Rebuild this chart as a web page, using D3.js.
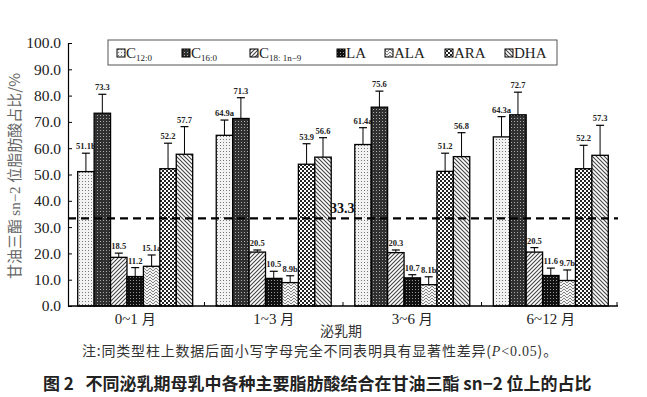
<!DOCTYPE html>
<html><head><meta charset="utf-8">
<script src="https://cdn.jsdelivr.net/npm/d3@7"></script>
<style>body{margin:0;background:#fff;}svg{display:block;}</style>
</head><body>
<script>
const groups = ["0~1 月","1~3 月","3~6 月","6~12 月"];
const seriesNames = ["C12:0","C16:0","C18:1n-9","LA","ALA","ARA","DHA"];
const c12 = [51.1,64.9,61.4,64.3];
const c16 = [73.3,71.3,75.6,72.7];
const c18 = [18.5,20.5,20.3,20.5];
const la = [11.2,10.5,10.7,11.6];
const ala = [15.1,8.9,8.1,9.7];
const ara = [52.2,53.9,51.2,52.2];
const dha = [57.7,56.6,56.8,57.3];
const c12Err = [7.0,5.8,6.4,7.7];
const c16Err = [7.2,7.9,6.1,8.6];
const c18Err = [1.6,0.8,1.0,1.7];
const laErr = [3.4,2.7,1.2,2.8];
const alaErr = [4.3,2.6,3.0,4.0];
const araErr = [9.7,7.8,6.9,8.9];
const dhaErr = [10.5,7.4,9.1,11.4];
const c12Sig = ["b","a","a","a"];
const alaSig = ["a","b","b","b"];
const yTicks = [0,10,20,30,40,50,60,70,80,90,100];
const refValue = 33.3;

const values = [c12,c16,c18,la,ala,ara,dha];
const errs = [c12Err,c16Err,c18Err,laErr,alaErr,araErr,dhaErr];
const sigs = [c12Sig,null,null,null,alaSig,null,null];

const W=647,H=397;
const svg=d3.select("body").append("svg").attr("width",W).attr("height",H);
const defs=svg.append("defs");

function pat(id,size,bg,draw){
  const p=defs.append("pattern").attr("id",id).attr("patternUnits","userSpaceOnUse").attr("width",size).attr("height",size);
  p.append("rect").attr("width",size).attr("height",size).attr("fill",bg);
  draw(p);
}
pat("p0",3,"#f2f2f2",p=>{p.append("rect").attr("x",1).attr("y",1).attr("width",1).attr("height",1).attr("fill","#777");});
pat("p1",3,"#303030",p=>{p.append("rect").attr("x",1).attr("y",1).attr("width",1).attr("height",1).attr("fill","#aaa");});
pat("p2",4,"#fff",p=>{p.append("path").attr("d","M-1,1 L1,-1 M0,4 L4,0 M3,5 L5,3").attr("stroke","#444").attr("stroke-width",1.1);});
pat("p3",3,"#111",p=>{p.append("rect").attr("x",1).attr("y",1).attr("width",1).attr("height",1).attr("fill","#999");});
pat("p4",6,"#f4f4f4",p=>{p.append("path").attr("d","M0,1 L3,4 L6,1 M0,4 L3,7 L6,4 M0,-2 L3,1 L6,-2").attr("stroke","#777").attr("stroke-width",0.9).attr("fill","none");});
pat("p5",4,"#fff",p=>{p.append("rect").attr("width",2).attr("height",2).attr("fill","#222");p.append("rect").attr("x",2).attr("y",2).attr("width",2).attr("height",2).attr("fill","#222");});
pat("p6",4,"#fff",p=>{p.append("path").attr("d","M-1,3 L1,5 M0,0 L4,4 M3,-1 L5,1").attr("stroke","#444").attr("stroke-width",1.1);});

const x0=d3.scaleBand().domain(groups).range([68,618]).paddingInner(0.17).paddingOuter(0.07);
const x1=d3.scaleBand().domain(seriesNames).range([0,x0.bandwidth()]);
const y=d3.scaleLinear().domain([0,100]).range([306,43]);

const serif="'Liberation Serif','Times New Roman',serif";
const cjk="'Noto Sans CJK SC',sans-serif";

seriesNames.forEach((s,si)=>{
  const g=svg.append("g");
  groups.forEach((grp,gi)=>{
    const v=values[si][gi], e=errs[si][gi];
    const bx=x0(grp)+x1(s), bw=x1.bandwidth(), cx=bx+bw/2;
    g.append("line").attr("x1",cx).attr("x2",cx).attr("y1",y(v)).attr("y2",y(v+e)).attr("stroke","#000").attr("stroke-width",1);
    g.append("line").attr("x1",cx-4).attr("x2",cx+4).attr("y1",y(v+e)).attr("y2",y(v+e)).attr("stroke","#000").attr("stroke-width",1.2);
    g.append("rect").attr("x",bx).attr("y",y(v)).attr("width",bw).attr("height",y(0)-y(v))
      .attr("fill",`url(#p${si})`).attr("stroke","#000").attr("stroke-width",1.3);
    const lab=v.toFixed(1)+(sigs[si]?sigs[si][gi]:"");
    g.append("text").attr("x",cx).attr("y",y(v+e)-4).attr("text-anchor","middle")
      .attr("font-family",serif).attr("font-weight","bold").attr("font-size",8.5).attr("fill","#222").text(lab);
  });
});

svg.append("line").attr("x1",68).attr("x2",618).attr("y1",y(refValue)).attr("y2",y(refValue))
  .attr("stroke","#000").attr("stroke-width",2.2).attr("stroke-dasharray","8,5");
svg.append("text").attr("x",330).attr("y",y(refValue)-5).attr("font-family",serif).attr("font-weight","bold")
  .attr("font-size",14).attr("fill","#111").text(refValue.toFixed(1));

const ya=svg.append("g").attr("transform","translate(68,0)")
  .call(d3.axisLeft(y).tickValues(yTicks).tickSize(-4).tickPadding(7).tickFormat(d=>d.toFixed(1)));
ya.select(".domain").attr("stroke","#000").attr("stroke-width",1.2);
ya.selectAll("text").attr("font-family",serif).attr("font-size",15.5).attr("fill","#222");
ya.selectAll(".tick line").attr("stroke","#000");

svg.append("line").attr("x1",68).attr("x2",618).attr("y1",306).attr("y2",306).attr("stroke","#000").attr("stroke-width",1.4);
const bounds=[0,1,2].map(i=>(x0(groups[i])+x0.bandwidth()+x0(groups[i+1]))/2).concat([617]);
bounds.forEach(b=>svg.append("line").attr("x1",b).attr("x2",b).attr("y1",306).attr("y2",302).attr("stroke","#000"));
groups.forEach(g=>{
  svg.append("text").attr("x",x0(g)+x0.bandwidth()/2).attr("y",324).attr("text-anchor","middle")
    .attr("font-family",serif).attr("font-size",15).attr("fill","#222")
    .call(t=>{const m=g.split(" ");t.append("tspan").text(m[0]+" ");t.append("tspan").attr("font-family",cjk).attr("font-size",14).text(m[1]);});
});
svg.append("text").attr("x",341).attr("y",336).attr("text-anchor","middle").attr("font-family",cjk).attr("font-size",14).attr("fill","#333").text("泌乳期");

svg.append("text").attr("transform","translate(20,176) rotate(-90)").attr("text-anchor","middle")
  .attr("font-size",15).attr("fill","#666")
  .call(t=>{
    t.append("tspan").attr("font-family",cjk).text("甘油三酯 ");
    t.append("tspan").attr("font-family",serif).text("sn−2 ");
    t.append("tspan").attr("font-family",cjk).text("位脂肪酸占比/%");
  });

svg.append("rect").attr("x",108).attr("y",40).attr("width",449).attr("height",25).attr("fill","#fff").attr("stroke","#555").attr("stroke-width",1);
const legX=[117,182,250,337,385,445,505];
const legMain=["C","C","C","LA","ALA","ARA","DHA"];
const legSub=["12:0","16:0","18: 1n−9","","","",""];
seriesNames.forEach((s,i)=>{
  svg.append("rect").attr("x",legX[i]).attr("y",49).attr("width",8).attr("height",8).attr("fill",`url(#p${i})`).attr("stroke","#000").attr("stroke-width",1);
  const t=svg.append("text").attr("x",legX[i]+9).attr("y",58).attr("font-family",serif).attr("font-size",15).attr("fill","#222");
  t.append("tspan").text(legMain[i]);
  if(legSub[i]) t.append("tspan").attr("font-size",9).attr("dy",3).text(legSub[i]);
});

svg.append("text").attr("x",82).attr("y",356).attr("font-family",cjk).attr("font-size",14).attr("letter-spacing",0.8).attr("fill","#333")
  .call(t=>{
    t.append("tspan").text("注:同类型柱上数据后面小写字母完全不同表明具有显著性差异(");
    t.append("tspan").attr("font-family",serif).attr("font-style","italic").text("P");
    t.append("tspan").attr("font-family",serif).text("<0.05");
    t.append("tspan").text(")。");
  });
svg.append("text").attr("x",43).attr("y",390).attr("font-family",cjk).attr("font-weight","bold").attr("font-size",17).attr("fill","#222")
  .attr("xml:space","preserve").text("图 2   不同泌乳期母乳中各种主要脂肪酸结合在甘油三酯 sn−2 位上的占比");
</script>
</body></html>
